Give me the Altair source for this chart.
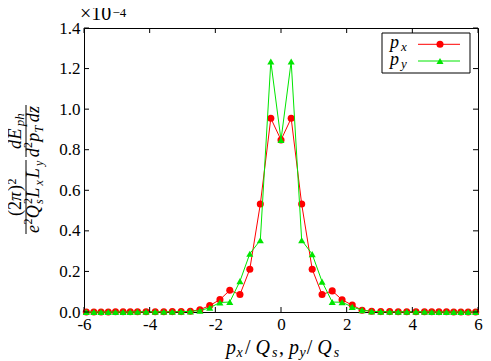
import altair as alt
import pandas as pd

# ---- data (y in units of 1e-4) ----
x_vals = [-5.93, -5.70, -5.48, -5.26, -5.04, -4.81, -4.59, -4.37, -4.11, -3.83, -3.57,
          -3.31, -3.04, -2.76, -2.47, -2.17, -1.86, -1.56, -1.25, -0.95, -0.63, -0.31,
          0.0,
          0.31, 0.63, 0.95, 1.25, 1.56, 1.86, 2.17, 2.47, 2.76, 3.04, 3.31,
          3.57, 3.83, 4.11, 4.37, 4.59, 4.81, 5.04, 5.26, 5.48, 5.70, 5.93]
px_vals = [0.000, 0.000, 0.000, 0.000, 0.001, 0.001, 0.001, 0.001, 0.001, 0.001, 0.001,
           0.002, 0.002, 0.004, 0.011, 0.032, 0.061, 0.107, 0.086, 0.211, 0.532, 0.955,
           0.848,
           0.955, 0.532, 0.211, 0.086, 0.104, 0.060, 0.034, 0.009, 0.004, 0.002, 0.002,
           0.001, 0.001, 0.001, 0.001, 0.001, 0.001, 0.001, 0.000, 0.000, 0.000, 0.000]
py_vals = [0.000, 0.000, 0.000, 0.000, 0.000, 0.000, 0.000, 0.001, 0.001, 0.001, 0.001,
           0.001, 0.002, 0.003, 0.007, 0.021, 0.047, 0.049, 0.152, 0.287, 0.354, 1.235,
           0.848,
           1.235, 0.354, 0.285, 0.150, 0.049, 0.048, 0.025, 0.009, 0.003, 0.002, 0.001,
           0.001, 0.001, 0.001, 0.001, 0.000, 0.000, 0.000, 0.000, 0.000, 0.000, 0.000]
x_ticks = [-6, -4, -2, 0, 2, 4, 6]
y_ticks = [0.0, 0.2, 0.4, 0.6, 0.8, 1.0, 1.2, 1.4]

W, H = 394, 284
RED = "#ff0000"
GREEN = "#00e600"
SERIF = "Liberation Serif"

xs = alt.Scale(domain=[-6, 6], nice=False, zero=False)
ys = alt.Scale(domain=[0, 1.4], nice=False, zero=False)
x_axis = alt.Axis(values=x_ticks, ticks=False, tickSize=0, domain=False, grid=False,
                  labelPadding=4, labelFont=SERIF, labelFontSize=17, labelColor="black",
                  labelExpr="toString(datum.value)", labelFlush=False)
y_axis = alt.Axis(values=y_ticks, ticks=False, tickSize=0, domain=False, grid=False,
                  labelPadding=4, labelFont=SERIF, labelFontSize=17, labelColor="black",
                  format=".1f", labelFlush=False)
X = alt.X("x:Q", scale=xs, axis=x_axis, title=None)
Y = alt.Y("y:Q", scale=ys, axis=y_axis, title=None)

df_px = pd.DataFrame({"x": x_vals, "y": px_vals})
df_py = pd.DataFrame({"x": x_vals, "y": py_vals})

red_line = alt.Chart(df_px).mark_line(color=RED, strokeWidth=1).encode(x=X, y=Y)
red_pts = alt.Chart(df_px).mark_point(shape="circle", filled=True, color=RED, size=50, opacity=1).encode(x=X, y=Y)
grn_line = alt.Chart(df_py).mark_line(color=GREEN, strokeWidth=1).encode(x=X, y=Y)
grn_pts = alt.Chart(df_py).mark_point(shape="triangle-up", filled=True, color=GREEN, size=50, opacity=1).encode(x=X, y=Y)

# inward ticks
dxt = pd.DataFrame({"x": x_ticks})
dyt = pd.DataFrame({"y": y_ticks})
tk = dict(color="black", strokeWidth=1)
xt_bot = alt.Chart(dxt).mark_rule(**tk).encode(x=X, y=alt.value(H), y2=alt.value(H - 5))
xt_top = alt.Chart(dxt).mark_rule(**tk).encode(x=X, y=alt.value(0), y2=alt.value(5))
yt_l = alt.Chart(dyt).mark_rule(**tk).encode(y=Y, x=alt.value(0), x2=alt.value(5))
yt_r = alt.Chart(dyt).mark_rule(**tk).encode(y=Y, x=alt.value(W), x2=alt.value(W - 5))

one = pd.DataFrame({"a": [0]})
OX, OY = 84, 28  # page position of view origin


def txt(s, px, py, size, italic=True, angle=0):
    return alt.Chart(pd.DataFrame({"t": [s]})).mark_text(
        font=SERIF, fontSize=size, fontStyle="italic" if italic else "normal",
        angle=angle, align="left", baseline="alphabetic", color="black"
    ).encode(x=alt.value(px - OX), y=alt.value(py - OY), text="t:N")


def hrule(x1, x2, y, color="black"):
    return alt.Chart(one).mark_rule(color=color, strokeWidth=1).encode(
        x=alt.value(x1 - OX), x2=alt.value(x2 - OX), y=alt.value(y - OY))


def vrule(x, y1, y2):
    return alt.Chart(one).mark_rule(color="black", strokeWidth=1).encode(
        x=alt.value(x - OX), y=alt.value(y1 - OY), y2=alt.value(y2 - OY))


texts = []
# y title (rotated): (x-page baseline, y-page start)
R = 270
NB, NS, DB, DP, DS = 21, 16, 39, 32, 43
texts += [
    txt("(2", NB, 216, 18, False, R), txt("π", NB, 201, 18, True, R),
    txt(")", NB, 191, 18, False, R), txt("2", NS, 184.5, 12, False, R),
    txt("e", DB, 233, 18, True, R), txt("2", DP, 224.6, 12, False, R),
    txt("Q", DB, 218.3, 18, True, R), txt("2", DP, 204.1, 12, False, R),
    txt("s", DS, 204.1, 12, True, R), txt("L", DB, 197.8, 18, True, R),
    txt("x", DS, 185.5, 12, True, R), txt("L", DB, 178.3, 18, True, R),
    txt("y", DS, 166, 12, True, R),
    txt("d", NB, 149, 18, True, R), txt("E", NB, 139.6, 18, True, R),
    txt("ph", 24, 126.3, 13, True, R),
    txt("d", DB, 157.3, 18, True, R), txt("2", DP, 148, 12, False, R),
    txt("p", DB, 141.7, 18, True, R), txt("T", DS, 132.6, 12, True, R),
    txt("d", DB, 122.2, 18, True, R), txt("z", DB, 112.9, 18, True, R),
]
bars = [vrule(26, 160, 234), vrule(26, 105, 157)]
# x title
bx, bs = 354, 357
texts += [
    txt("p", 226, bx, 20), txt("x", 236.6, bs, 14), txt("/", 245, bx, 20, False),
    txt("Q", 255.5, bx, 20), txt("s", 272, bs, 14), txt(",", 279, bx, 20, False),
    txt("p", 289, bx, 20), txt("y", 299.6, bs, 14), txt("/", 306.7, bx, 20, False),
    txt("Q", 317.2, bx, 20), txt("s", 333.8, bs, 14),
]
# exponent
texts += [txt("×10", 80, 20, 20, False), txt("−4", 112.5, 17, 13, False)]

# legend
LX = -5
leg_box = alt.Chart(one).mark_rect(fill="white", stroke="black", strokeWidth=1).encode(
    x=alt.value(387 + LX - OX), x2=alt.value(475 + LX - OX), y=alt.value(33 - OY), y2=alt.value(73 - OY))
leg = [
    leg_box,
    hrule(423 + LX, 465 + LX, 44.3, RED),
    alt.Chart(one).mark_point(shape="circle", filled=True, color=RED, size=50, opacity=1).encode(
        x=alt.value(445 + LX - OX), y=alt.value(44.3 - OY)),
    hrule(423 + LX, 465 + LX, 61, GREEN),
    alt.Chart(one).mark_point(shape="triangle-up", filled=True, color=GREEN, size=50, opacity=1).encode(
        x=alt.value(445 + LX - OX), y=alt.value(61 - OY)),
    txt("p", 395 + LX, 48, 18), txt("x", 406 + LX, 51, 13),
    txt("p", 395 + LX, 64.7, 18), txt("y", 406 + LX, 68, 13),
]

chart = alt.layer(
    red_line, red_pts, grn_line, grn_pts,
    xt_bot, xt_top, yt_l, yt_r,
    *bars, *texts, *leg
).properties(
    width=W, height=H,
    autosize=alt.AutoSizeParams(type="none"),
    padding={"left": OX - 8, "top": OY - 8, "right": 475 - (OX - 8) - W, "bottom": 353 - (OY - 8) - H},
).configure_view(stroke="black", strokeWidth=1)

chart.save("out.html", embed_options={"renderer": "svg", "actions": False})
